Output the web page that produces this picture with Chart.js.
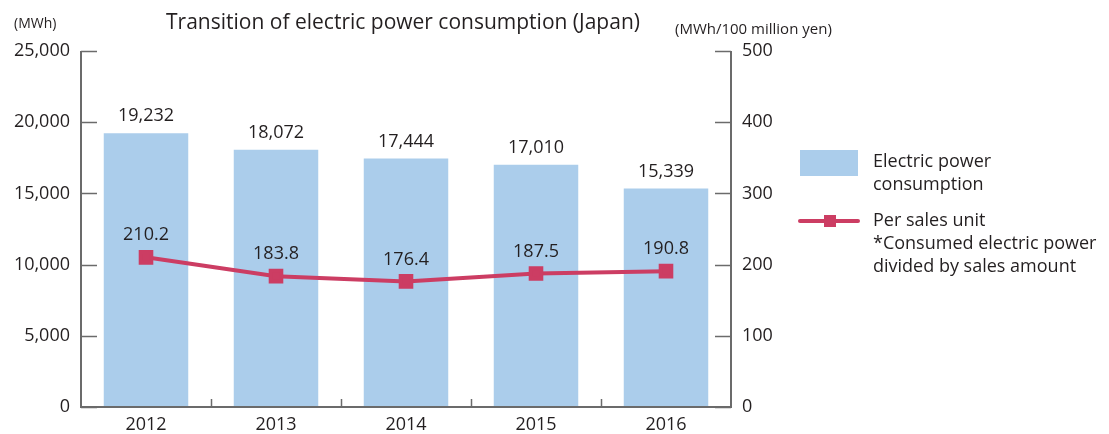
<!DOCTYPE html>
<html>
<head>
<meta charset="utf-8">
<script src="https://cdn.jsdelivr.net/npm/chart.js@4"></script>
<style>
  html, body { margin: 0; padding: 0; background: #fff; }
  canvas { display: block; }
</style>
</head>
<body>
<canvas id="chart" width="1109" height="434"></canvas>
<script>
const years = ['2012', '2013', '2014', '2015', '2016'];
const consumption = [19232, 18072, 17444, 17010, 15339];
const perSalesUnit = [210.2, 183.8, 176.4, 187.5, 190.8];
const consumptionLabels = ['19,232', '18,072', '17,444', '17,010', '15,339'];
const perSalesLabels = ['210.2', '183.8', '176.4', '187.5', '190.8'];
const legendBar = ['Electric power', 'consumption'];
const legendLine = ['Per sales unit', '*Consumed electric power', 'divided by sales amount'];

const FONT = '"Open Sans", "Noto Sans", sans-serif';
const TEXT = '#231f20';
const AXIS = '#6b6b6b';
const BAR = '#abcdeb';
const LINE = '#cc3d63';

// axes, ticks, value labels, title and legend
const decor = {
  id: 'decor',
  afterDraw(chart) {
    const ctx = chart.ctx;
    const area = chart.chartArea;
    const x = chart.scales.x, y = chart.scales.y, y1 = chart.scales.y1;
    ctx.save();

    // axis lines
    ctx.strokeStyle = AXIS;
    ctx.lineWidth = 2;
    ctx.beginPath();
    ctx.moveTo(area.left, area.top);
    ctx.lineTo(area.left, area.bottom);
    ctx.lineTo(area.right, area.bottom);
    ctx.lineTo(area.right, area.top);
    ctx.stroke();

    // inward ticks
    ctx.lineWidth = 1.5;
    y.ticks.forEach(t => {
      const py = Math.round(y.getPixelForValue(t.value)) + 0.5;
      ctx.beginPath();
      ctx.moveTo(area.left, py);
      ctx.lineTo(area.left + 16, py);
      ctx.stroke();
    });
    y1.ticks.forEach(t => {
      const py = Math.round(y1.getPixelForValue(t.value)) + 0.5;
      ctx.beginPath();
      ctx.moveTo(area.right, py);
      ctx.lineTo(area.right - 16, py);
      ctx.stroke();
    });
    for (let i = 1; i < years.length; i++) {
      const px = Math.round((x.getPixelForValue(i - 1) + x.getPixelForValue(i)) / 2) + 0.5;
      ctx.beginPath();
      ctx.moveTo(px, area.bottom);
      ctx.lineTo(px, area.bottom - 8);
      ctx.stroke();
    }

    // value labels
    ctx.fillStyle = TEXT;
    ctx.textAlign = 'center';
    ctx.textBaseline = 'middle';
    ctx.font = '18px ' + FONT;
    chart.getDatasetMeta(1).data.forEach((el, i) => {
      ctx.fillText(consumptionLabels[i], el.x, el.y - 17);
    });
    chart.getDatasetMeta(0).data.forEach((el, i) => {
      ctx.fillText(perSalesLabels[i], el.x, el.y - 22);
    });

    // title and units
    ctx.font = '21px ' + FONT;
    ctx.fillText('Transition of electric power consumption (Japan)', 403, 23);
    ctx.font = '14px ' + FONT;
    ctx.textAlign = 'left';
    ctx.fillText('(MWh)', 14, 24);
    ctx.font = '15px ' + FONT;
    ctx.fillText('(MWh/100 million yen)', 675, 30);

    // legend
    const lx = area.right + 69;
    ctx.fillStyle = BAR;
    ctx.fillRect(lx, 150, 58, 26);
    ctx.strokeStyle = LINE;
    ctx.lineWidth = 4;
    ctx.lineCap = 'round';
    ctx.beginPath();
    ctx.moveTo(lx, 221);
    ctx.lineTo(lx + 58, 221);
    ctx.stroke();
    ctx.fillStyle = LINE;
    ctx.fillRect(lx + 24, 215, 12, 12);

    ctx.fillStyle = TEXT;
    ctx.font = '18px ' + FONT;
    legendBar.forEach((s, i) => ctx.fillText(s, lx + 73, 162 + i * 23));
    legendLine.forEach((s, i) => ctx.fillText(s, lx + 73, 221 + i * 23));

    ctx.restore();
  }
};

new Chart(document.getElementById('chart'), {
  data: {
    labels: years,
    datasets: [
      {
        type: 'line',
        label: 'Per sales unit',
        data: perSalesUnit,
        yAxisID: 'y1',
        borderColor: LINE,
        backgroundColor: LINE,
        borderWidth: 4,
        pointStyle: 'rect',
        pointRadius: 7.5,
        pointHoverRadius: 7.5,
        order: 0
      },
      {
        type: 'bar',
        label: 'Electric power consumption',
        data: consumption,
        yAxisID: 'y',
        backgroundColor: BAR,
        barPercentage: 0.65,
        categoryPercentage: 1,
        order: 1
      }
    ]
  },
  options: {
    responsive: false,
    animation: false,
    layout: { padding: { top: 51, left: 0, right: 0, bottom: 0 } },
    plugins: { legend: { display: false }, tooltip: { enabled: false } },
    scales: {
      x: {
        offset: true,
        grid: { display: false, drawTicks: false },
        border: { display: false },
        ticks: { color: TEXT, font: { family: FONT, size: 18 }, padding: 7 },
        afterFit(s) { s.height = 27; }
      },
      y: {
        position: 'left',
        min: 0, max: 25000,
        grid: { display: false, drawTicks: false },
        border: { display: false },
        ticks: {
          stepSize: 5000, padding: 11, color: TEXT,
          font: { family: FONT, size: 18 },
          callback: v => v.toLocaleString('en-US')
        },
        afterFit(s) { s.width = 81; }
      },
      y1: {
        position: 'right',
        min: 0, max: 500,
        grid: { display: false, drawTicks: false },
        border: { display: false },
        ticks: { stepSize: 100, padding: 11, color: TEXT, font: { family: FONT, size: 18 } },
        afterFit(s) { s.width = 378; }
      }
    }
  },
  plugins: [decor]
});
</script>
</body>
</html>
